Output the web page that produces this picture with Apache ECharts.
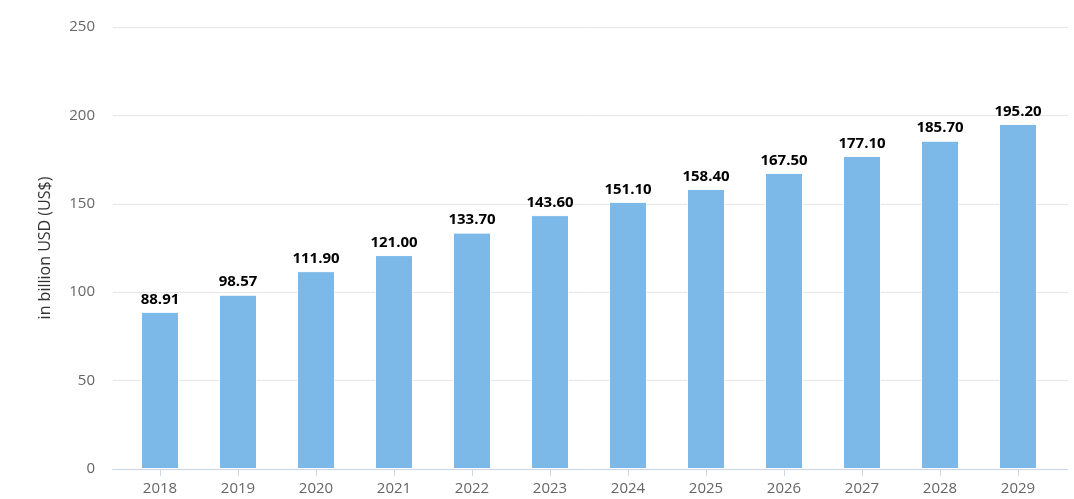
<!DOCTYPE html>
<html><head><meta charset="utf-8">
<script src="https://cdn.jsdelivr.net/npm/echarts@6/dist/echarts.min.js"></script>
<style>html,body{margin:0;padding:0;background:#fff}#c{width:1074px;height:499px}</style>
</head><body><div id="c"></div>
<script>
const years = ['2018','2019','2020','2021','2022','2023','2024','2025','2026','2027','2028','2029'];
const values = [88.91, 98.57, 111.90, 121.00, 133.70, 143.60, 151.10, 158.40, 167.50, 177.10, 185.70, 195.20];
const yTicks = [0, 50, 100, 150, 200, 250];
const yTitle = 'in billion USD (US$)';

const FONT = '"Open Sans", "DejaVu Sans", sans-serif';
const chart = echarts.init(document.getElementById('c'));
chart.setOption({
  animation: false,
  grid: [
    {left: 113, right: 6, top: 27, bottom: 30},
    {left: 121, right: 17, top: 27, bottom: 30}
  ],
  xAxis: [
    {gridIndex: 0, type: 'value', min: 0, max: 1, show: true,
     axisLine: {show: true, lineStyle: {color: '#ccd6eb', width: 1}},
     axisTick: {show: false}, axisLabel: {show: false}, splitLine: {show: false}},
    {gridIndex: 1, type: 'category', data: years,
     axisLine: {show: false},
     axisTick: {show: true, alignWithLabel: true, length: 7, lineStyle: {color: '#ccd6eb'}},
     axisLabel: {color: '#666666', fontSize: 15, fontFamily: FONT, margin: 12}}
  ],
  yAxis: [
    {gridIndex: 0, type: 'value', min: yTicks[0], max: yTicks[yTicks.length-1], interval: 50,
     axisLine: {show: false}, axisTick: {show: false},
     axisLabel: {color: '#666666', fontSize: 15, fontFamily: FONT, margin: 18},
     splitLine: {lineStyle: {color: '#e6e6e6', width: 1}},
     name: yTitle, nameLocation: 'middle', nameGap: 60,
     nameTextStyle: {color: '#333333', fontSize: 16, fontFamily: FONT}},
    {gridIndex: 1, type: 'value', min: yTicks[0], max: yTicks[yTicks.length-1], interval: 50, show: false}
  ],
  series: [{
    type: 'bar', xAxisIndex: 1, yAxisIndex: 1,
    data: values, barWidth: 38,
    itemStyle: {color: '#7cb9e8', borderColor: '#ffffff', borderWidth: 1},
    label: {show: true, position: 'top', distance: 5,
      formatter: p => p.value.toFixed(2),
      color: '#000000', fontWeight: 'bold', fontSize: 15, fontFamily: FONT}
  }]
});
</script></body></html>
